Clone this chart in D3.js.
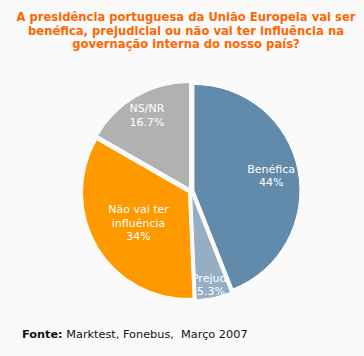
<!DOCTYPE html>
<html><head><meta charset="utf-8">
<script src="https://cdn.jsdelivr.net/npm/d3@7"></script>
<style>
html,body{margin:0;padding:0;background:#fafafa;}
svg{display:block;}
</style></head>
<body>
<svg id="c" width="364" height="356"></svg>
<script>
const categories = ["Benéfica", "Prejud.", "Não vai ter influência", "NS/NR"];
const labelLines = [["Benéfica"], ["Prejud."], ["Não vai ter", "influência"], ["NS/NR"]];
const values = [44, 5.3, 34, 16.7];
const valueLabels = ["44%", "5.3%", "34%", "16.7%"];
const colors = ["#628aab", "#94aec4", "#ff9900", "#b1b1b1"];
const titleLines = ["A presidência portuguesa da União Europeia vai ser",
  "benéfica, prejudicial ou não vai ter influência na",
  "governação interna do nosso país?"];

const svg = d3.select("#c");
const W = 364;
svg.append("rect").attr("width", W).attr("height", 356).attr("fill", "#fafafa");

const title = svg.append("text").attr("text-anchor", "middle")
  .attr("font-family", "DejaVu Sans, Verdana, sans-serif")
  .attr("font-size", 11.6).attr("font-weight", "bold").attr("fill", "#ff6600");
titleLines.forEach((t, i) => title.append("tspan").attr("x", 186).attr("y", 21 + i * 13.5).text(t));

const cx = 191, cy = 191, r = 106, explode = 3;
const labelR = [0.77, 0.9, 0.58, 0.83];

const pie = d3.pie().sort(null).value(d => d)(values);
const arc = d3.arc().innerRadius(0).outerRadius(r);
const g = svg.append("g").attr("transform", `translate(${cx},${cy})`);

pie.forEach((p, i) => {
  const mid = (p.startAngle + p.endAngle) / 2;
  const ox = Math.sin(mid) * explode, oy = -Math.cos(mid) * explode;
  const sg = g.append("g").attr("transform", `translate(${ox},${oy})`);
  sg.append("path").attr("d", arc(p)).attr("fill", colors[i])
    .attr("stroke", "#ffffff").attr("stroke-width", 1);
});

pie.forEach((p, i) => {
  const la = d3.arc().innerRadius(r * labelR[i]).outerRadius(r * labelR[i]);
  const [lx, ly] = la.centroid(p);
  const lines = labelLines[i].concat([valueLabels[i]]);
  const t = g.append("text").attr("text-anchor", "middle")
    .attr("font-family", "DejaVu Sans, Verdana, sans-serif")
    .attr("font-size", 11).attr("fill", "#ffffff");
  const lh = 13.5;
  const y0 = ly - (lines.length - 1) * lh / 2 + 4;
  lines.forEach((s, k) => t.append("tspan").attr("x", lx).attr("y", y0 + k * lh).text(s));
});

const src = svg.append("text").attr("x", 22).attr("y", 338)
  .attr("font-family", "DejaVu Sans, Verdana, sans-serif").attr("font-size", 11.3).attr("fill", "#111");
src.append("tspan").attr("font-weight", "bold").text("Fonte:");
src.append("tspan").text(" Marktest, Fonebus,\u00a0 Março 2007");
</script>
</body></html>
